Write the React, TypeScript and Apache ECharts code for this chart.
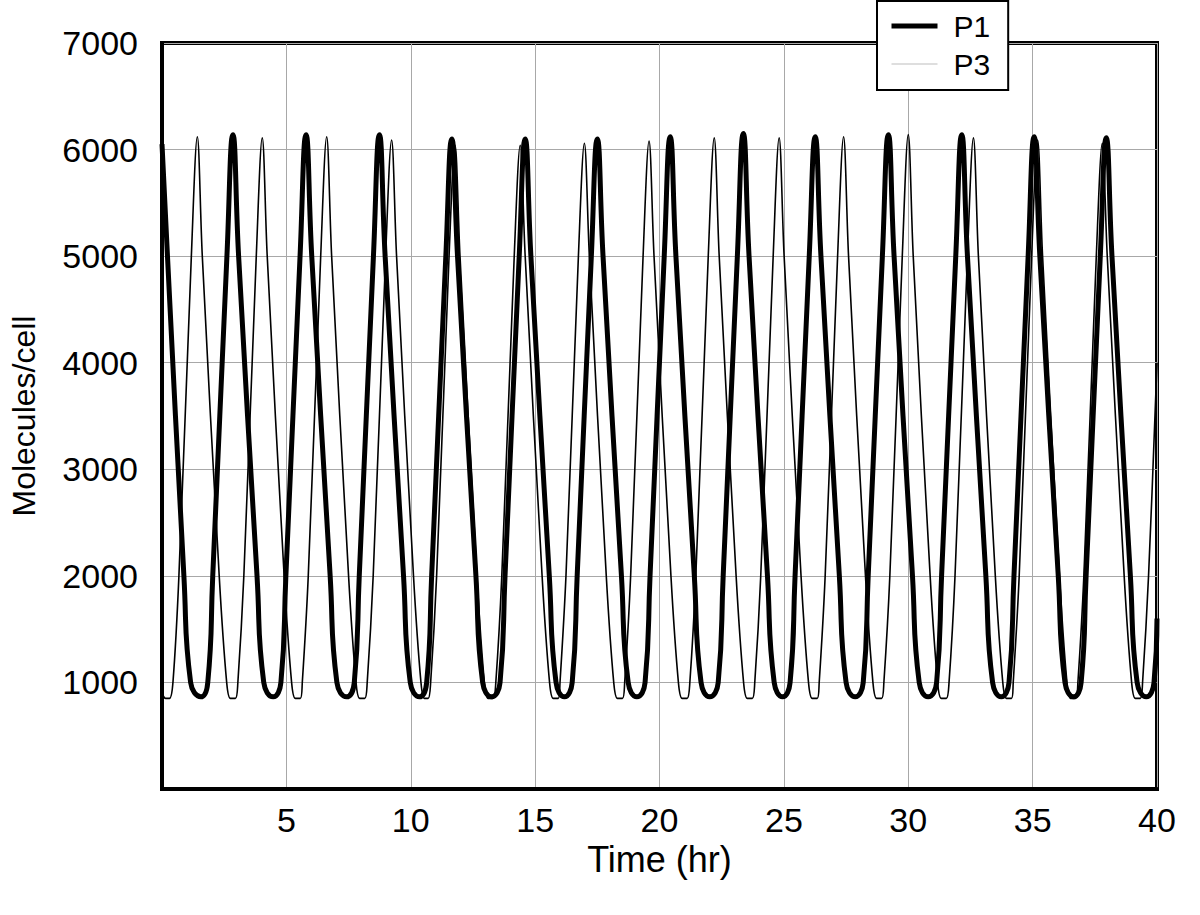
import React, { useEffect, useRef } from "react";
import * as echarts from "echarts";

const SERIES_NAMES = ["P1", "P3"];
const X_TICKS = [0, 5, 10, 15, 20, 25, 30, 35, 40];
const Y_TICKS = [0, 1000, 2000, 3000, 4000, 5000, 6000, 7000];

// P1 (thick) — [time (hr), molecules/cell]
const P1: [number, number][] = [
  [0, 6050], [0.22, 5000], [0.88, 2000], [1.15, 1000], [1.56, 865], [1.84, 1000], [2.04, 2000], [2.61, 5000], [2.85, 6140],
  [3.08, 5000], [3.82, 2000], [4.09, 1000], [4.47, 865], [4.78, 1000], [4.98, 2000], [5.55, 5000], [5.79, 6140],
  [6.02, 5000], [6.76, 2000], [7.03, 1000], [7.42, 865], [7.73, 1000], [7.93, 2000], [8.5, 5000], [8.74, 6140],
  [8.97, 5000], [9.71, 2000], [9.98, 1000], [10.35, 865], [10.64, 1000], [10.84, 2000], [11.41, 5000], [11.65, 6100],
  [11.88, 5000], [12.62, 2000], [12.89, 1000], [13.25, 865], [13.59, 1000], [13.79, 2000], [14.36, 5000], [14.6, 6100],
  [14.83, 5000], [15.57, 2000], [15.84, 1000], [16.18, 865], [16.49, 1000], [16.69, 2000], [17.26, 5000], [17.5, 6100],
  [17.73, 5000], [18.47, 2000], [18.74, 1000], [19.09, 865], [19.42, 1000], [19.62, 2000], [20.19, 5000], [20.43, 6120],
  [20.66, 5000], [21.4, 2000], [21.67, 1000], [22.02, 865], [22.36, 1000], [22.56, 2000], [23.13, 5000], [23.37, 6150],
  [23.6, 5000], [24.34, 2000], [24.61, 1000], [24.95, 865], [25.25, 1000], [25.45, 2000], [26.02, 5000], [26.26, 6120],
  [26.49, 5000], [27.23, 2000], [27.5, 1000], [27.87, 865], [28.19, 1000], [28.39, 2000], [28.96, 5000], [29.2, 6140],
  [29.43, 5000], [30.17, 2000], [30.44, 1000], [30.8, 865], [31.14, 1000], [31.34, 2000], [31.91, 5000], [32.15, 6140],
  [32.38, 5000], [33.12, 2000], [33.39, 1000], [33.74, 865], [34.05, 1000], [34.25, 2000], [34.82, 5000], [35.06, 6120],
  [35.29, 5000], [36.03, 2000], [36.3, 1000], [36.65, 865], [36.95, 1000], [37.15, 2000], [37.72, 5000], [37.96, 6110],
  [38.19, 5000], [38.93, 2000], [39.2, 1000], [39.57, 865], [39.88, 1000], [40, 1600],
];

// P3 (thin) — [time (hr), molecules/cell]
const P3: [number, number][] = [
  [0, 900], [0.15, 850], [0.3, 850], [0.44, 1000], [0.68, 2000], [1.18, 5000], [1.42, 6120],
  [1.62, 5000], [2.3, 2000], [2.6, 1000], [2.75, 850], [2.95, 850], [3.05, 1000], [3.29, 2000], [3.79, 5000], [4.03, 6110],
  [4.23, 5000], [4.91, 2000], [5.21, 1000], [5.36, 850], [5.56, 850], [5.64, 1000], [5.88, 2000], [6.38, 5000], [6.62, 6120],
  [6.82, 5000], [7.5, 2000], [7.8, 1000], [7.95, 850], [8.15, 850], [8.25, 1000], [8.49, 2000], [8.99, 5000], [9.23, 6090],
  [9.43, 5000], [10.11, 2000], [10.41, 1000], [10.55, 850], [10.7, 850], [10.8, 1000], [11.04, 2000], [11.54, 5000], [11.78, 6040],
  [11.98, 5000], [12.66, 2000], [12.96, 1000], [13.11, 850], [13.31, 850], [13.42, 1000], [13.66, 2000], [14.16, 5000], [14.4, 6040],
  [14.6, 5000], [15.28, 2000], [15.58, 1000], [15.73, 850], [15.93, 850], [16.0, 1000], [16.24, 2000], [16.74, 5000], [16.98, 6060],
  [17.18, 5000], [17.86, 2000], [18.16, 1000], [18.31, 850], [18.51, 850], [18.6, 1000], [18.84, 2000], [19.34, 5000], [19.58, 6080],
  [19.78, 5000], [20.46, 2000], [20.76, 1000], [20.91, 850], [21.11, 850], [21.22, 1000], [21.46, 2000], [21.96, 5000], [22.2, 6110],
  [22.4, 5000], [23.08, 2000], [23.38, 1000], [23.53, 850], [23.73, 850], [23.83, 1000], [24.07, 2000], [24.57, 5000], [24.81, 6110],
  [25.01, 5000], [25.69, 2000], [25.99, 1000], [26.14, 850], [26.34, 850], [26.42, 1000], [26.66, 2000], [27.16, 5000], [27.4, 6120],
  [27.6, 5000], [28.28, 2000], [28.58, 1000], [28.73, 850], [28.93, 850], [29.02, 1000], [29.26, 2000], [29.76, 5000], [30.0, 6140],
  [30.2, 5000], [30.88, 2000], [31.18, 1000], [31.33, 850], [31.53, 850], [31.64, 1000], [31.88, 2000], [32.38, 5000], [32.62, 6110],
  [32.82, 5000], [33.5, 2000], [33.8, 1000], [33.95, 850], [34.15, 850], [34.22, 1000], [34.46, 2000], [34.96, 5000], [35.2, 6090],
  [35.4, 5000], [36.08, 2000], [36.38, 1000], [36.53, 850], [36.73, 850], [36.82, 1000], [37.06, 2000], [37.56, 5000], [37.8, 6060],
  [38.0, 5000], [38.68, 2000], [38.98, 1000], [39.13, 850], [39.33, 850], [39.42, 1000], [39.66, 2000], [40, 4000],
];

const FONT = "'Liberation Sans', Arial, Helvetica, sans-serif";

export default function App() {
  const ref = useRef<HTMLDivElement>(null);

  useEffect(() => {
    if (!ref.current) return;
    const chart = echarts.init(ref.current, undefined, { renderer: "svg" });
    chart.setOption({
      animation: false,
      backgroundColor: "#fff",
      grid: {
        left: 162,
        top: 43,
        right: 43,
        bottom: 126,
        containLabel: false,
        outerBoundsMode: "none",
        show: true,
        borderColor: "#000",
        borderWidth: 4,
        backgroundColor: "#fff",
      },
      legend: {
        data: [
          { name: SERIES_NAMES[0], lineStyle: { color: "#000", width: 5 }, itemStyle: { opacity: 0 } },
          { name: SERIES_NAMES[1], lineStyle: { color: "#bdbdbd", width: 1 }, itemStyle: { opacity: 0 } },
        ],
        orient: "vertical",
        left: 877,
        top: 1,
        itemWidth: 46,
        itemHeight: 20,
        itemGap: 4,
        padding: [8, 18, 9, 12],
        backgroundColor: "#fff",
        borderColor: "#000",
        borderWidth: 2,
        borderRadius: 0,
        textStyle: {
          fontFamily: FONT,
          fontSize: 30,
          color: "#000",
          lineHeight: 34,
          padding: [0, 0, 0, 11],
        },
        z: 10,
      },
      xAxis: {
        type: "value",
        min: X_TICKS[0],
        max: X_TICKS[X_TICKS.length - 1],
        interval: X_TICKS[1] - X_TICKS[0],
        name: "Time (hr)",
        nameLocation: "middle",
        nameGap: 51,
        nameTextStyle: { fontFamily: FONT, fontSize: 36, color: "#000" },
        axisLine: { show: true, lineStyle: { color: "#000", width: 4 } },
        axisTick: { show: false },
        axisLabel: {
          margin: 14,
          fontFamily: FONT,
          fontSize: 34,
          color: "#000",
          formatter: (v: number) => (v === 0 ? "" : String(v)),
        },
        splitLine: { show: true, lineStyle: { color: "#a8a8a8", width: 1 } },
      },
      yAxis: {
        type: "value",
        min: Y_TICKS[0],
        max: Y_TICKS[Y_TICKS.length - 1],
        interval: Y_TICKS[1] - Y_TICKS[0],
        name: "Molecules/cell",
        nameLocation: "middle",
        nameGap: 122,
        nameTextStyle: { fontFamily: FONT, fontSize: 32, color: "#000" },
        axisLine: { show: true, lineStyle: { color: "#000", width: 4 } },
        axisTick: { show: false },
        axisLabel: {
          margin: 24,
          fontFamily: FONT,
          fontSize: 34,
          color: "#000",
          formatter: (v: number) => (v === 0 ? "" : String(v)),
        },
        splitLine: { show: true, lineStyle: { color: "#a8a8a8", width: 1 } },
      },
      series: [
        {
          name: SERIES_NAMES[1],
          type: "line",
          data: P3,
          symbol: "none",
          smooth: 0.35,
          lineStyle: { color: "#000", width: 1.6 },
          itemStyle: { color: "#000" },
          z: 2,
        },
        {
          name: SERIES_NAMES[0],
          type: "line",
          data: P1,
          symbol: "none",
          smooth: 0.5,
          lineStyle: { color: "#000", width: 5 },
          itemStyle: { color: "#000" },
          z: 3,
        },
      ],
    });
    return () => chart.dispose();
  }, []);

  return (
    <div
      ref={ref}
      style={{ position: "absolute", left: 0, top: 0, width: 1200, height: 915 }}
    />
  );
}
